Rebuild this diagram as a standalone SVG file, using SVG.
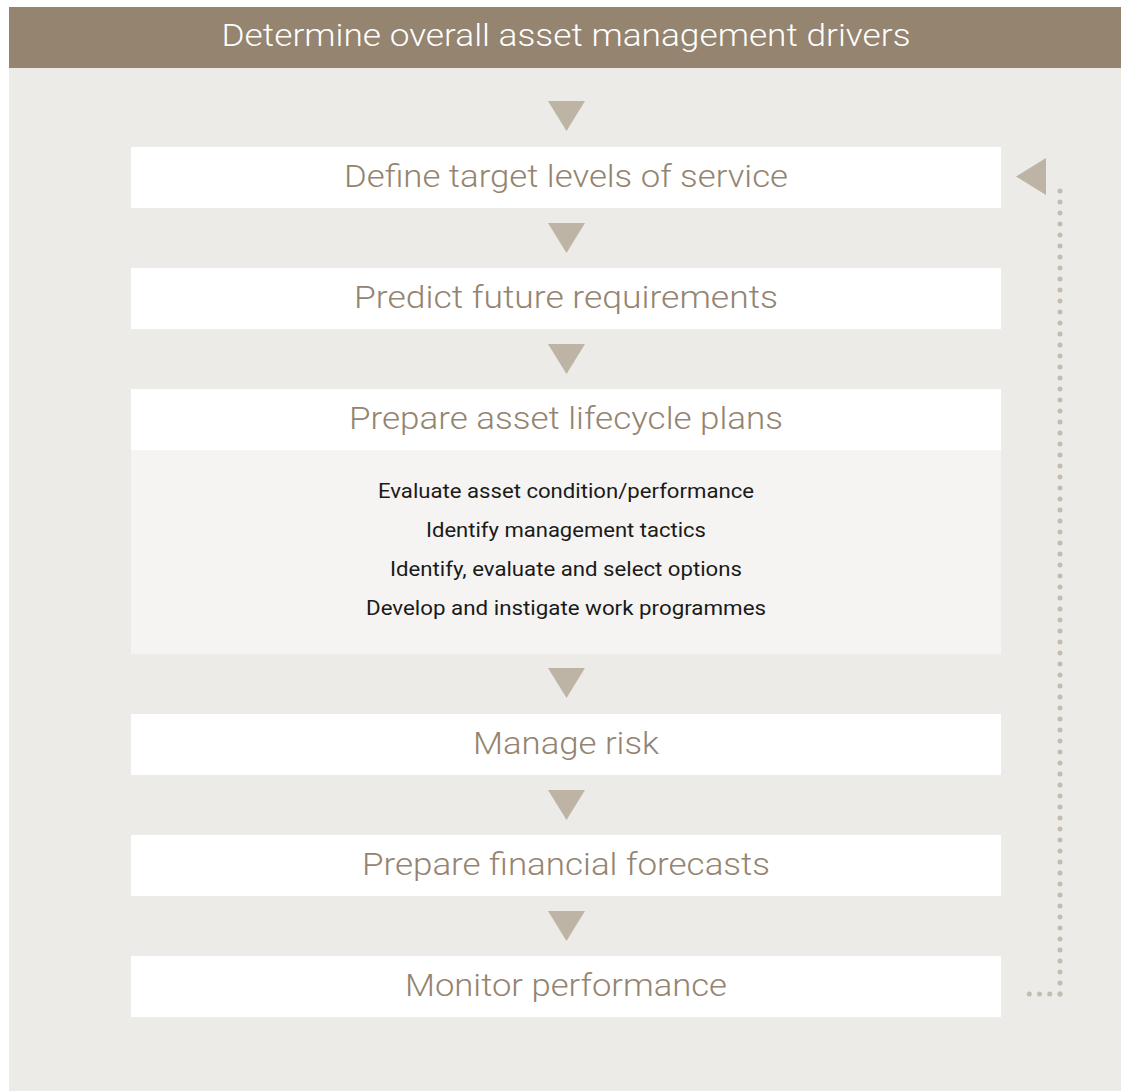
<svg xmlns="http://www.w3.org/2000/svg" width="1121" height="1091" viewBox="0 0 1121 1091">
<style>
.box{fill:#ffffff}
.tri{fill:#bdb4a6}
.t{font-family:Roboto,"Liberation Sans",sans-serif;font-size:32px;font-weight:300;fill:#948470;text-anchor:middle}
.h{font-family:Roboto,"Liberation Sans",sans-serif;font-size:32px;font-weight:300;fill:#ffffff;text-anchor:middle}
.l{font-family:Roboto,"Liberation Sans",sans-serif;font-size:20px;fill:#1a1a1a;text-anchor:middle}
.dot{fill:none;stroke:#c4bcb0;stroke-width:5;stroke-linecap:round}
</style>
<rect x="0" y="0" width="1121" height="1091" fill="#ffffff"/>
<rect x="9" y="68" width="1112" height="1023" fill="#edebe7"/>
<g id="header">
<rect x="9" y="7" width="1112" height="61" fill="#948470"/>
<text class="h" x="566" y="46" textLength="689" lengthAdjust="spacingAndGlyphs">Determine overall asset management drivers</text>
</g>
<g id="n1">
<rect class="box" x="131" y="147" width="870" height="61"/>
<text class="t" x="566" y="187" textLength="444" lengthAdjust="spacingAndGlyphs">Define target levels of service</text>
</g>
<g id="n2">
<rect class="box" x="131" y="268" width="870" height="61"/>
<text class="t" x="566" y="308" textLength="424" lengthAdjust="spacingAndGlyphs">Predict future requirements</text>
</g>
<g id="n3">
<rect class="box" x="131" y="389" width="870" height="61"/>
<rect x="131" y="450" width="870" height="204" fill="#f5f4f2"/>
<text class="t" x="566" y="429" textLength="434" lengthAdjust="spacingAndGlyphs">Prepare asset lifecycle plans</text>
<text class="l" x="566" y="498" textLength="376" lengthAdjust="spacingAndGlyphs">Evaluate asset condition/performance</text>
<text class="l" x="566" y="537" textLength="280" lengthAdjust="spacingAndGlyphs">Identify management tactics</text>
<text class="l" x="566" y="576" textLength="352" lengthAdjust="spacingAndGlyphs">Identify, evaluate and select options</text>
<text class="l" x="566" y="615" textLength="400" lengthAdjust="spacingAndGlyphs">Develop and instigate work programmes</text>
</g>
<g id="n4">
<rect class="box" x="131" y="714" width="870" height="61"/>
<text class="t" x="566" y="754" textLength="186" lengthAdjust="spacingAndGlyphs">Manage risk</text>
</g>
<g id="n5">
<rect class="box" x="131" y="835" width="870" height="61"/>
<text class="t" x="566" y="875" textLength="408" lengthAdjust="spacingAndGlyphs">Prepare financial forecasts</text>
</g>
<g id="n6">
<rect class="box" x="131" y="956" width="870" height="61"/>
<text class="t" x="566" y="996" textLength="322" lengthAdjust="spacingAndGlyphs">Monitor performance</text>
</g>
<g id="connectors">
<polygon class="tri" points="548,101 585,101 566.5,131"/>
<polygon class="tri" points="548,223 585,223 566.5,253"/>
<polygon class="tri" points="548,344 585,344 566.5,374"/>
<polygon class="tri" points="548,668 585,668 566.5,698"/>
<polygon class="tri" points="548,790 585,790 566.5,820"/>
<polygon class="tri" points="548,911 585,911 566.5,941"/>
<polygon class="tri" points="1046,158 1046,195 1016,176.5"/>
<line class="dot" x1="1060" y1="994" x2="1060" y2="180" stroke-dasharray="0 11"/>
<line class="dot" x1="1060" y1="994" x2="1019" y2="994" stroke-dasharray="0 10.25"/>
</g>
</svg>
